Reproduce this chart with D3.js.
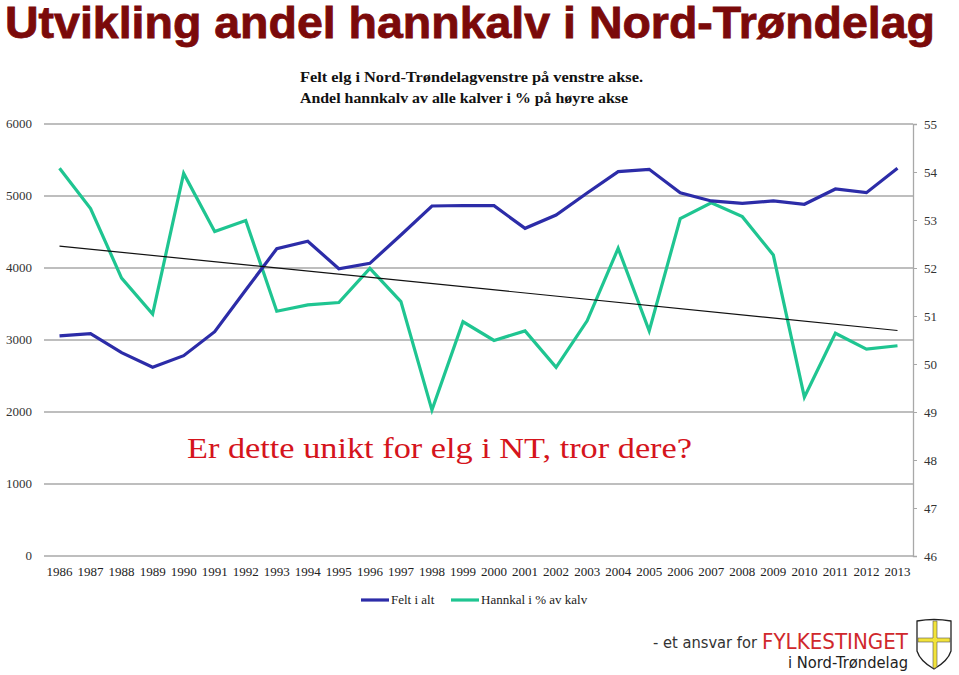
<!DOCTYPE html>
<html>
<head>
<meta charset="utf-8">
<script src="https://cdn.jsdelivr.net/npm/d3@7"></script>
<style>
  body { margin:0; background:#fff; }
  svg { display:block; }
</style>
</head>
<body>
<div id="chart"></div>
<script>
// data
var years = ["1986","1987","1988","1989","1990","1991","1992","1993","1994","1995","1996","1997","1998","1999",
             "2000","2001","2002","2003","2004","2005","2006","2007","2008","2009","2010","2011","2012","2013"];
var feltIAlt = [3056,3088,2824,2621,2782,3115,3694,4268,4371,3990,4065,4458,4861,4868,
                4865,4551,4736,5042,5338,5371,5046,4931,4899,4931,4885,5097,5046,5385];
var hannkalPst = [54.08,53.24,51.79,51.04,53.97,52.76,52.99,51.10,51.23,51.28,51.99,51.30,49.04,50.88,
                  50.49,50.69,49.93,50.90,52.41,50.69,53.03,53.36,53.07,52.27,49.31,50.64,50.31,50.38];
var leftTicks = [0,1000,2000,3000,4000,5000,6000];
var rightTicks = [46,47,48,49,50,51,52,53,54,55];

function draw(){
    var W = 959, H = 675;
    var svg = d3.select("#chart").append("svg").attr("width", W).attr("height", H);

    var pLeft = 44, pRight = 913, pTop = 124, pBottom = 556;
    var serif = "'Liberation Serif','Times New Roman',serif";

    var x = d3.scaleBand().domain(years).range([pLeft, pRight]);
    var yL = d3.scaleLinear().domain([0, 6000]).range([pBottom, pTop]);
    var yR = d3.scaleLinear().domain([46, 55]).range([pBottom, pTop]);

    // title
    svg.append("text")
        .attr("x", 5).attr("y", 38)
        .attr("font-family", "'Liberation Sans Narrow','Arial Narrow','Liberation Sans',sans-serif")
        .attr("font-weight", "bold").attr("font-size", 44)
        .attr("fill", "#7b0a0a").attr("stroke", "#7b0a0a").attr("stroke-width", 0.8)
        .attr("textLength", 930).attr("lengthAdjust", "spacingAndGlyphs")
        .text("Utvikling andel hannkalv i Nord-Trøndelag");

    // subtitle
    var sub = svg.append("g").attr("font-family", serif).attr("font-weight", "bold")
        .attr("font-size", 15).attr("fill", "#111");
    sub.append("text").attr("x", 300).attr("y", 82).attr("textLength", 343).attr("lengthAdjust", "spacingAndGlyphs")
        .text("Felt elg i Nord-Trøndelagvenstre på venstre akse.");
    sub.append("text").attr("x", 300).attr("y", 103).attr("textLength", 328).attr("lengthAdjust", "spacingAndGlyphs")
        .text("Andel hannkalv av alle kalver i % på høyre akse");

    // gridlines
    svg.append("g").selectAll("line").data(leftTicks).join("line")
        .attr("x1", pLeft).attr("x2", pRight)
        .attr("y1", function(d){ return yL(d); }).attr("y2", function(d){ return yL(d); })
        .attr("stroke", "#a8a8a8").attr("stroke-width", 1.3);

    // left labels
    svg.append("g").selectAll("text").data(leftTicks).join("text")
        .attr("x", 32).attr("y", function(d){ return yL(d) + 4; })
        .attr("text-anchor", "end").attr("font-family", serif).attr("font-size", 13).attr("fill", "#333")
        .text(function(d){ return d; });

    // right axis
    var rAxis = svg.append("g").attr("transform", "translate(" + pRight + ",0)")
        .call(d3.axisRight(yR).tickValues(rightTicks).tickSize(4).tickPadding(7));
    rAxis.select(".domain").attr("stroke", "#a8a8a8").attr("stroke-width", 1.3);
    rAxis.selectAll(".tick line").attr("stroke", "#a8a8a8");
    rAxis.selectAll(".tick text").attr("font-family", serif).attr("font-size", 13).attr("fill", "#333");

    // x labels
    svg.append("g").selectAll("text").data(years).join("text")
        .attr("x", function(d){ return x(d) + x.bandwidth() / 2; }).attr("y", 576)
        .attr("text-anchor", "middle").attr("font-family", serif).attr("font-size", 13).attr("fill", "#222")
        .text(function(d){ return d; });

    var cx = function(d, i){ return x(years[i]) + x.bandwidth() / 2; };

    // green line
    svg.append("path").datum(hannkalPst)
        .attr("fill", "none").attr("stroke", "#1fc591").attr("stroke-width", 3.2)
        .attr("d", d3.line().x(cx).y(function(d){ return yR(d); }));

    // blue line
    svg.append("path").datum(feltIAlt)
        .attr("fill", "none").attr("stroke", "#2c2ca8").attr("stroke-width", 3.2)
        .attr("d", d3.line().x(cx).y(function(d){ return yL(d); }));

    // linear trend for the green series
    var n = hannkalPst.length;
    var mx = d3.mean(hannkalPst, function(d, i){ return i; });
    var my = d3.mean(hannkalPst);
    var sxy = d3.sum(hannkalPst, function(d, i){ return (i - mx) * (d - my); });
    var sxx = d3.sum(hannkalPst, function(d, i){ return (i - mx) * (i - mx); });
    var slope = sxy / sxx, icpt = my - slope * mx;
    svg.append("line")
        .attr("x1", cx(null, 0)).attr("y1", yR(icpt))
        .attr("x2", cx(null, n - 1)).attr("y2", yR(icpt + slope * (n - 1)))
        .attr("stroke", "#111").attr("stroke-width", 1.2);

    // question text
    svg.append("text")
        .attr("x", 187).attr("y", 458)
        .attr("font-family", serif).attr("font-size", 30).attr("fill", "#d5141c")
        .attr("textLength", 505).attr("lengthAdjust", "spacingAndGlyphs")
        .text("Er dette unikt for elg i NT, tror dere?");

    // legend
    var legend = [{name:"Felt i alt", color:"#2c2ca8", x:361}, {name:"Hannkal i % av kalv", color:"#1fc591", x:451}];
    var lg = svg.append("g").selectAll("g").data(legend).join("g")
        .attr("transform", function(d){ return "translate(" + d.x + ",600)"; });
    lg.append("line").attr("x1", 0).attr("x2", 28).attr("stroke", function(d){ return d.color; }).attr("stroke-width", 3.2);
    lg.append("text").attr("x", 30).attr("y", 4).attr("font-family", serif).attr("font-size", 13).attr("fill", "#222")
        .text(function(d){ return d.name; });

    // logo
    var logo = svg.append("g").attr("font-family", "'DejaVu Sans','Open Sans',sans-serif");
    logo.append("text").attr("x", 653).attr("y", 648).attr("font-size", 15).attr("fill", "#333")
        .attr("textLength", 104).attr("lengthAdjust", "spacingAndGlyphs").text("- et ansvar for");
    logo.append("text").attr("x", 762).attr("y", 649).attr("font-size", 22).attr("fill", "#d0282c")
        .attr("textLength", 146).attr("lengthAdjust", "spacingAndGlyphs").text("FYLKESTINGET");
    logo.append("text").attr("x", 908).attr("y", 668).attr("font-size", 15).attr("fill", "#222")
        .attr("text-anchor", "end").attr("textLength", 120).attr("lengthAdjust", "spacingAndGlyphs").text("i Nord-Trøndelag");

    var shield = svg.append("g").attr("transform", "translate(917,619)");
    shield.append("path")
        .attr("d", "M0,2 Q17,-1 34,2 L34,32 Q31,42 17,50 Q3,42 0,32 Z")
        .attr("fill", "#fff").attr("stroke", "#222").attr("stroke-width", 1.3);
    shield.append("path")
        .attr("d", "M16,2 L20,2 L20,19 L33,19 L33,23 L20,23 L20,48 L17,49.5 L16,48 L16,23 L1,23 L1,19 L16,19 Z")
        .attr("fill", "#f2e33a").attr("stroke", "#555").attr("stroke-width", 0.6);
}
draw();
</script>
</body>
</html>
